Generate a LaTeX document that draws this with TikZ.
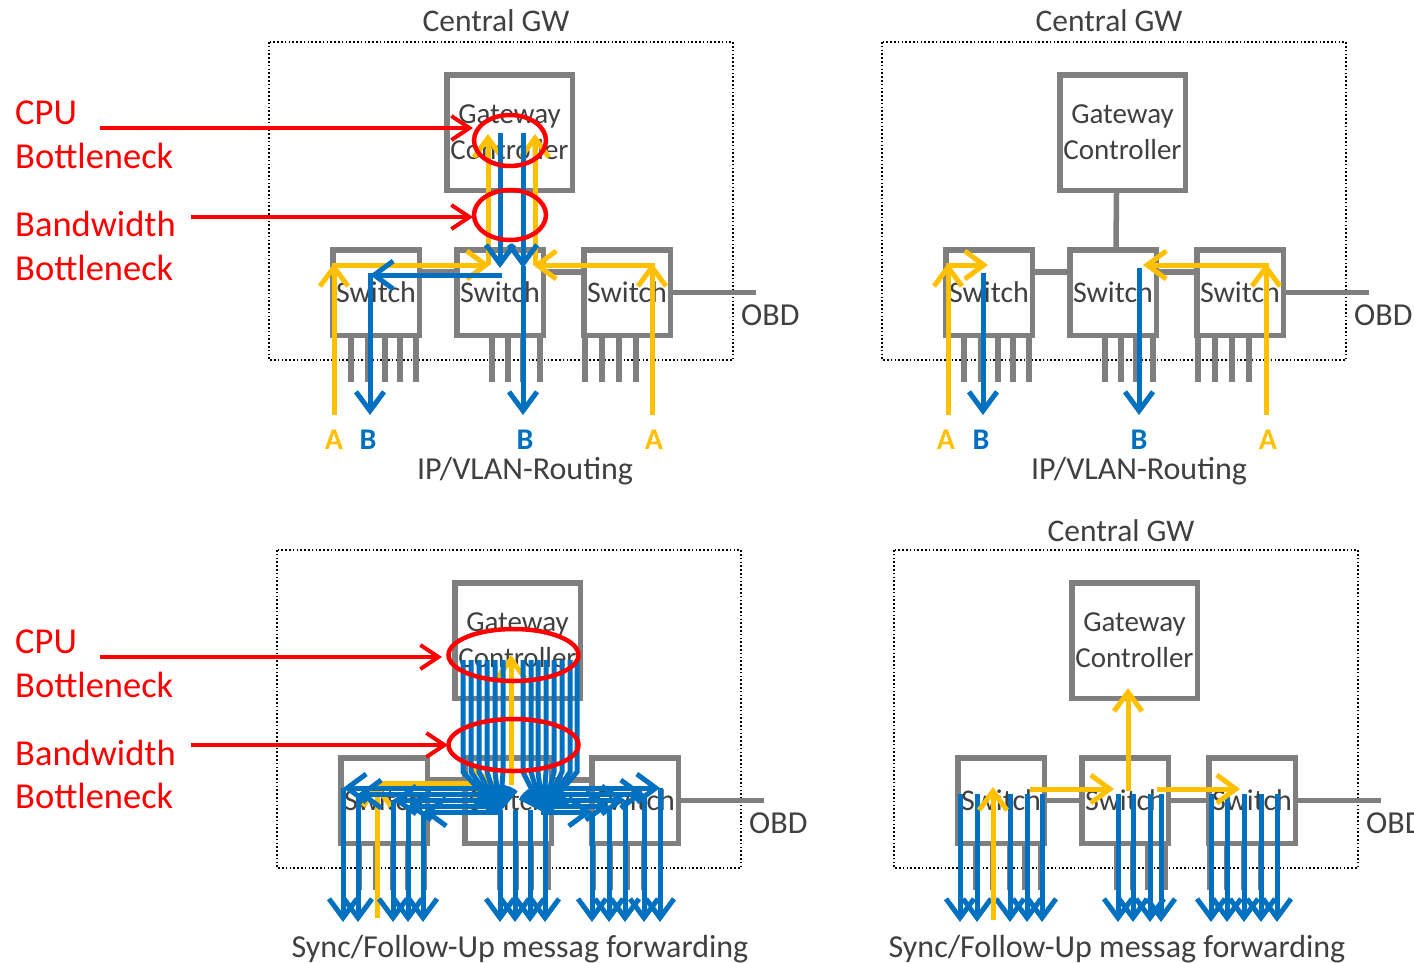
\documentclass[tikz,border=0pt]{standalone}
\usepackage{fontspec}
\setmainfont{Carlito}
\usetikzlibrary{arrows.meta}
\definecolor{gry}{HTML}{7F7F7F}
\definecolor{txt}{HTML}{404040}
\definecolor{yel}{HTML}{FFC000}
\definecolor{blu}{HTML}{0070C0}
\definecolor{rd}{HTML}{FF0000}
\tikzset{
  gcbox/.style={draw=gry, line width=5.5pt, fill=white, minimum width=125.5pt, minimum height=115.5pt, inner sep=0pt, text=txt, font=\fontsize{29}{36}\selectfont, align=center},
  swbox/.style={draw=gry, line width=5.5pt, fill=white, minimum width=86.5pt, minimum height=85.5pt, inner sep=0pt, text=txt, font=\fontsize{30}{36}\selectfont},
  frame/.style={draw=black, line width=1.6pt, dash pattern=on 1.6pt off 2.2pt},
  gline/.style={draw=gry, line width=5.5pt},
  ya/.style={draw=yel, line width=5pt, -{Straight Barb[length=19pt,width=28pt,line width=5pt]}},
  ba/.style={draw=blu, line width=5pt, -{Straight Barb[length=19pt,width=28pt,line width=5pt]}},
  ra/.style={draw=rd, line width=4pt, -{Straight Barb[length=18pt,width=24pt,line width=4pt]}},
  rell/.style={draw=rd, line width=4.5pt},
  lbl/.style={text=txt, font=\fontsize{32}{38}\selectfont, inner sep=0pt},
  ttl/.style={text=txt, font=\fontsize{31.5}{38}\selectfont, inner sep=0pt, anchor=base},
  redlbl/.style={text=rd, font=\fontsize{36.5}{44}\selectfont, inner sep=0pt, anchor=base west},
  alab/.style={text=yel, font=\bfseries\fontsize{30}{36}\selectfont, inner sep=0pt, anchor=base},
  blab/.style={text=blu, font=\bfseries\fontsize{30}{36}\selectfont, inner sep=0pt, anchor=base},
}
\newcommand{\mypanel}[1]{%
  \draw[frame] (269,42) rectangle (733,360);
  \foreach \px in {351,368,385,400,416,492,508,523,540,585,602,619,636}
    \draw[gline] (\px,335) -- (\px,382);
  \node[gcbox] (#1gc) at (509.5,132.5) {Gateway\\Controller};
  \node[swbox] (#1sa) at (376,292.5) {Switch};
  \node[swbox] (#1sb) at (500,292.5) {Switch};
  \node[swbox] (#1sc) at (627,292.5) {Switch};
  \draw[gline] (#1sc.east) -- ++(83,0) coordinate (#1obd);
  \node[lbl, anchor=base west] (#1obdl) at (741,325) {OBD};
}
\begin{document}
\begin{tikzpicture}[x=1pt,y=-1pt]
\useasboundingbox (0,0) rectangle (1414,962);
\fill[white] (0,0) rectangle (1414,962);

% ---------------- panels ----------------
\begin{scope}
  \mypanel{p}
  \draw[gline] ([yshift=-25pt]psb.north east) -- ([yshift=-25pt]psc.north west);
  \draw[gline] ([yshift=-25pt]psa.north east) -- ([yshift=-25pt]psb.north west);
  \node[ttl] (pttl) at (496,31) {Central GW};
\end{scope}
\begin{scope}[shift={(613,0)}]
  \mypanel{q}
  \draw[gline] ([yshift=-25pt]qsa.north east) -- ([yshift=-25pt]qsb.north west);
  \draw[gline] ([yshift=-25pt]qsb.north east) -- ([yshift=-25pt]qsc.north west);
  \draw[gline] ([xshift=-6pt]qgc.south) -- ([xshift=3pt]qsb.north);
  \node[ttl] (qttl) at (496,31) {Central GW};
\end{scope}
\begin{scope}[shift={(8,508)}]
  \mypanel{r}
  \draw[gline] ([yshift=-25pt]rsa.north east) -- ([yshift=-25pt]rsb.north west);
  \draw[gline] ([yshift=-25pt]rsb.north east) -- ([yshift=-25pt]rsc.north west);
\end{scope}
\begin{scope}[shift={(625,508)}]
  \mypanel{s}
  \draw[gline] (ssa.east) -- (ssb.west);
  \draw[gline] (ssb.east) -- (ssc.west);
  \node[ttl] (sttl) at (496,33) {Central GW};
\end{scope}

% ---------------- top-left flows ----------------
\draw[ya] (334,415) -- (334,263);
\draw[ya] (331.5,265) -- (490,265);
\draw[ya] (488,265) -- (488,134);
\draw[ya] (652,415) -- (652,263);
\draw[ya] (654.5,265) -- (533,265);
\draw[ya] (535,265) -- (535,134);
\draw[ba] (500,133) -- (500,268);
\draw[ba] (523,133) -- (523,268);
\draw[ba] (502,275) -- (370,275);
\draw[ba] (370,273) -- (370,415);
\draw[ba] (523,266) -- (523,415);
\node[alab] (pa1) at (334,449) {A};
\node[blab] (pb1) at (368,449) {B};
\node[blab] (pb2) at (525,449) {B};
\node[alab] (pa2) at (654,449) {A};
\node[lbl, anchor=base] (pip) at (525,479) {IP/VLAN-Routing};

% ---------------- top-right flows ----------------
\draw[ya] (948,415) -- (948,263);
\draw[ya] (945.5,265) -- (988,265);
\draw[ba] (983,273) -- (983,415);
\draw[ba] (1139,268) -- (1139,415);
\draw[ya] (1266,415) -- (1266,263);
\draw[ya] (1268.5,265) -- (1143,265);
\node[alab] (qa1) at (946,449) {A};
\node[blab] (qb1) at (981,449) {B};
\node[blab] (qb2) at (1139,449) {B};
\node[alab] (qa2) at (1268,449) {A};
\node[lbl, anchor=base] (qip) at (1139,479) {IP/VLAN-Routing};

% ---------------- bottom-left flows ----------------
\draw[ya] (377,918) -- (377,783);
\draw[ya] (374.5,783) -- (496,783);
\draw[ya] (511,785) -- (511,655);
\foreach \px in {463,471,479,487,495,503}
  \draw[ba] (\px,660) -- (\px,772) -- (500,812);
\foreach \px in {523,531,538,546,554,562,570,577}
  \draw[ba] (\px,660) -- (\px,772) -- (543,812);
\foreach \py/\px in {788/343, 794/358, 800/393, 806/408, 812/423} {
  \draw[ba] (502,\py) -- (\px,\py);
  \draw[ba] (\px,\py) -- (\px,922);
}
\foreach \py/\px in {788/660, 794/644, 800/625, 806/609, 812/592} {
  \draw[ba] (541,\py) -- (\px,\py);
  \draw[ba] (\px,\py) -- (\px,922);
}
\foreach \px in {500,515,530,545}
  \draw[ba] (\px,810) -- (\px,922);
\node[lbl, anchor=base] (rsync) at (520,957) {Sync/Follow-Up messag forwarding};

% ---------------- bottom-right flows ----------------
\foreach \px in {960,977,1010,1027,1042,1118,1133,1150,1161,1211,1227,1244,1261,1277}
  \draw[ba] (\px,794) -- (\px,922);
\draw[ya] (993,920) -- (993,787);
\draw[ya] (1030,789) -- (1114,789);
\draw[ya] (1128,791) -- (1128,688);
\draw[ya] (1157,789) -- (1240,789);
\node[lbl, anchor=base] (ssync) at (1117,957) {Sync/Follow-Up messag forwarding};

% ---------------- bottlenecks ----------------
\draw[rell] (510,140.5) ellipse [x radius=36pt, y radius=25.5pt];
\draw[rell] (510,215) ellipse [x radius=36pt, y radius=25pt];
\draw[ra] (100,128) -- (473,128);
\draw[ra] (191,217) -- (473,217);
\node[redlbl] (c1) at (15,124) {CPU};
\node[redlbl] (c2) at (15,168) {Bottleneck};
\node[redlbl] (c3) at (15,236) {Bandwidth};
\node[redlbl] (c4) at (15,280) {Bottleneck};

\draw[rell] (513.5,655) ellipse [x radius=65pt, y radius=26pt];
\draw[rell] (513.5,745) ellipse [x radius=65pt, y radius=26pt];
\draw[ra] (100,657) -- (442,657);
\draw[ra] (191,745) -- (448,745);
\node[redlbl] (d1) at (15,653) {CPU};
\node[redlbl] (d2) at (15,697) {Bottleneck};
\node[redlbl] (d3) at (15,765) {Bandwidth};
\node[redlbl] (d4) at (15,808) {Bottleneck};
\end{tikzpicture}
\end{document}
